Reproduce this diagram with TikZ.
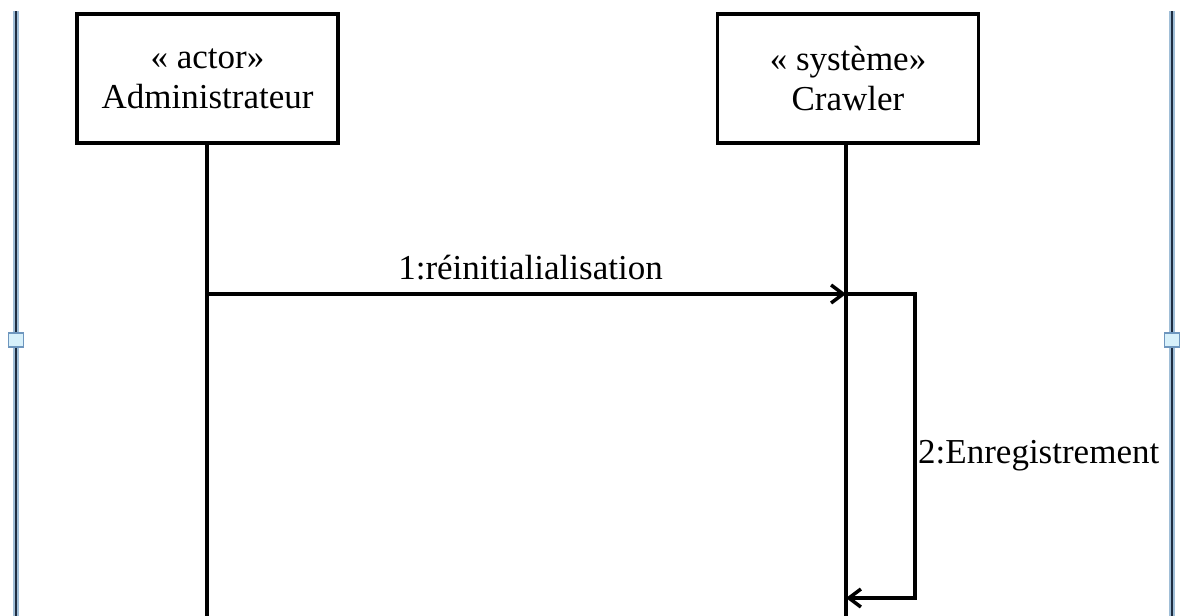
\documentclass[tikz,border=0pt]{standalone}
\usepackage{fontspec}
\setmainfont{Liberation Serif}
\usetikzlibrary{arrows.meta}
\definecolor{framedark}{RGB}{30,45,65}
\definecolor{framehalo}{RGB}{160,190,215}
\definecolor{handlefill}{RGB}{215,240,250}
\definecolor{handledraw}{RGB}{110,150,190}
\tikzset{
  lifebox/.style={draw=black, line width=3.5pt, fill=white, minimum width=261pt,
    minimum height=129pt, align=center, inner sep=0pt,
    font=\fontsize{35}{40}\selectfont},
  lifeline/.style={draw=black, line width=3.5pt},
  msg/.style={draw=black, line width=3.5pt, -{Straight Barb[length=12pt,width=18pt]}},
  msglabel/.style={inner sep=0pt, font=\fontsize{35}{40}\selectfont},
  framehaloline/.style={draw=framehalo, line width=5.5pt},
  framecore/.style={draw=framedark, line width=2.6pt},
  handle/.style={draw=handledraw, fill=handlefill, line width=1.2pt,
    minimum width=15pt, minimum height=14pt, inner sep=0pt}
}
\begin{document}
\begin{tikzpicture}[x=1pt,y=-1pt]
  \useasboundingbox (0,0) rectangle (1184,616);
  \fill[white] (0,0) rectangle (1184,616);

  % side borders of the frame
  \coordinate (lt) at (16,11);  \coordinate (lb) at (16,616);
  \coordinate (rt) at (1172,11); \coordinate (rb) at (1172,616);
  \draw[framehaloline] (lt) -- (lb);
  \draw[framecore] (lt) -- (lb);
  \draw[framehaloline] (rt) -- (rb);
  \draw[framecore] (rt) -- (rb);
  \node[handle] (hl) at (16,340) {};
  \node[handle] (hr) at (1172,340) {};

  % participants
  \node[lifebox] (admin) at (207.5,78.5) {«\ actor»\\Administrateur};
  \node[lifebox] (crawler) at (848,78.5) {«\ système»\\Crawler};

  % lifelines
  \coordinate (adminEnd) at (207,616);
  \coordinate (crawlerEnd) at (846,616);
  \draw[lifeline] (admin.south -| adminEnd) -- (adminEnd);
  \draw[lifeline] (crawler.south -| crawlerEnd) -- (crawlerEnd);

  % message 1
  \coordinate (m1s) at (207,294);
  \coordinate (m1e) at (846,294);
  \draw[msg] (m1s) -- node[msglabel, above=12pt, xshift=4pt] (l1) {1:réinitialialisation} (m1e);

  % message 2 (self call)
  \coordinate (m2a) at (915,294);
  \coordinate (m2b) at (915,598);
  \coordinate (m2e) at (846,598);
  \draw[msg] (m1e) -- (m2a) -- (m2b) -- (m2e);
  \node[msglabel, anchor=base west] (l2) at (918,463) {2:Enregistrement};
\end{tikzpicture}
\end{document}
